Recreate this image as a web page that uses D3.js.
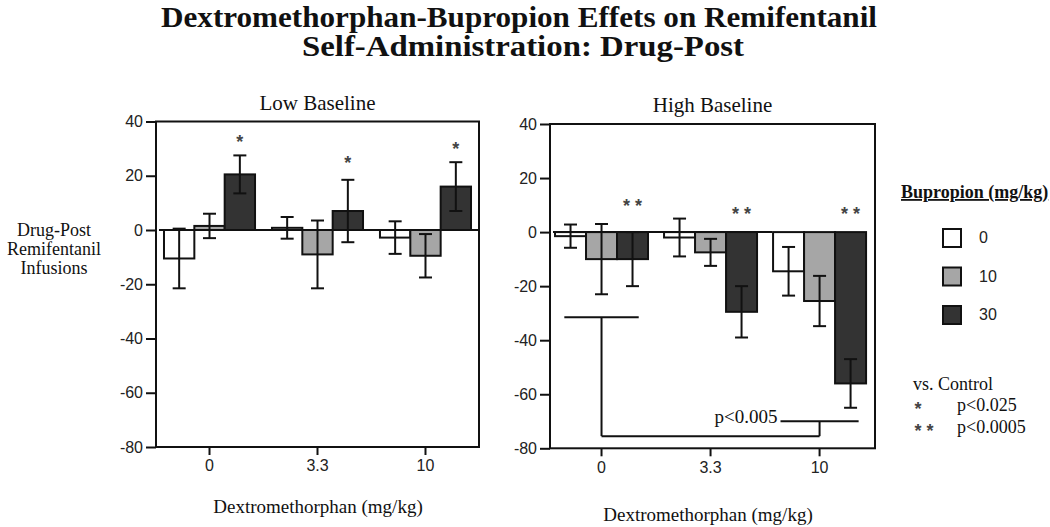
<!DOCTYPE html>
<html>
<head>
<meta charset="utf-8">
<script src="https://cdn.jsdelivr.net/npm/d3@7"></script>
<style>
  html, body { margin: 0; padding: 0; background: #fff; }
  svg { display: block; }
</style>
</head>
<body>
<svg id="chart" width="1050" height="527"></svg>
<script>
// ---------------- DATA ----------------
const groups = ["0", "3.3", "10"];            // Dextromethorphan (mg/kg)
const seriesNames = ["0", "10", "30"];        // Bupropion (mg/kg)
const yTicks = [40, 20, 0, -20, -40, -60, -80];

// Low baseline: means and SEM per group (rows) per bupropion dose (cols)
const lowMeans = [[-10.5, 1.5, 20.5], [0.8, -9, 7], [-2.8, -9.5, 16]];
const lowSE    = [[11, 4.5, 7], [4, 12.5, 11.5], [6, 8, 9]];
// High baseline
const highMeans = [[-1.5, -10, -10], [-2, -7.5, -29.5], [-14.5, -25.5, -56]];
const highSE    = [[4.3, 13, 10], [7, 5, 9.5], [9, 9.3, 9]];

// significance markers (vs. control)
const lowStars  = [{ g: "0", s: "30", label: "*", y: 34 }, { g: "3.3", s: "30", label: "*", y: 26 }, { g: "10", s: "30", label: "*", y: 31.5 }];
const highStars = [{ g: "0", s: "30", label: "* *", y: 11 }, { g: "3.3", s: "30", label: "* *", y: 8 }, { g: "10", s: "30", label: "* *", y: 8 }];
// bracket in high-baseline panel
const bracket = { from: "0", to: "10", yBase: -75.5, yFrom: -31.5, yTo: -70, label: "p<0.005" };

// ---------------- STYLE ----------------
const fills = { "0": "#ffffff", "10": "#a6a6a6", "30": "#333333" };
const SERIF = "'Liberation Serif', 'Times New Roman', serif";
const SANS = "'Liberation Sans', Arial, sans-serif";

const svg = d3.select("#chart");

// Title
const title = svg.append("g").attr("font-family", SERIF).attr("font-weight", "bold")
  .attr("font-size", 29).attr("text-anchor", "middle").attr("fill", "#111");
title.append("text").attr("x", 519).attr("y", 27)
  .attr("textLength", 716).attr("lengthAdjust", "spacingAndGlyphs")
  .text("Dextromethorphan-Bupropion Effets on Remifentanil");
title.append("text").attr("x", 523).attr("y", 56)
  .attr("textLength", 442).attr("lengthAdjust", "spacingAndGlyphs")
  .text("Self-Administration: Drug-Post");

// Y-axis label (shared, left)
const ylab = svg.append("text").attr("font-family", SERIF).attr("font-size", 18)
  .attr("text-anchor", "middle").attr("fill", "#111");
["Drug-Post", "Remifentanil", "Infusions"].forEach((t, i) => {
  ylab.append("tspan").attr("x", 54).attr("y", 236 + i * 19).text(t);
});

function panel(cfg) {
  const { left, right, top, bottom, means, se, stars, name, titleY, xlabY, xlabX, zeroEnd, pi, po, align } = cfg;
  const g = svg.append("g");

  const x = d3.scaleBand().domain(groups).range([left, right])
    .paddingInner(pi).paddingOuter(po).align(align);
  const xs = d3.scaleBand().domain(seriesNames).range([0, x.bandwidth()]);
  const y = d3.scaleLinear().domain([-80, 40]).range([bottom, top]);

  // frame
  g.append("rect").attr("x", left).attr("y", top).attr("width", right - left).attr("height", bottom - top)
    .attr("fill", "none").attr("stroke", "#111").attr("stroke-width", 2);

  // y axis
  const ya = g.append("g").attr("transform", `translate(${left},0)`)
    .call(d3.axisLeft(y).tickValues(yTicks).tickSize(10).tickPadding(3).tickFormat(d => String(d)));
  ya.select(".domain").remove();
  ya.selectAll(".tick line").attr("stroke", "#111").attr("stroke-width", 2);
  ya.selectAll(".tick text").attr("font-family", SANS).attr("font-size", 16).attr("fill", "#222");

  // x axis
  const xa = g.append("g").attr("transform", `translate(0,${bottom})`)
    .call(d3.axisBottom(x).tickSize(8).tickPadding(5));
  xa.select(".domain").remove();
  xa.selectAll(".tick line").attr("stroke", "#111").attr("stroke-width", 2);
  xa.selectAll(".tick text").attr("font-family", SANS).attr("font-size", 16).attr("fill", "#222");

  // zero line
  g.append("line").attr("x1", left + 3).attr("x2", zeroEnd(x))
    .attr("y1", y(0)).attr("y2", y(0)).attr("stroke", "#111").attr("stroke-width", 2);

  // bars
  const rows = [];
  groups.forEach((gr, i) => seriesNames.forEach((s, j) => rows.push({ g: gr, s, v: means[i][j], e: se[i][j] })));

  g.selectAll("rect.bar").data(rows).join("rect").attr("class", "bar")
    .attr("x", d => x(d.g) + xs(d.s))
    .attr("width", xs.bandwidth())
    .attr("y", d => y(Math.max(0, d.v)))
    .attr("height", d => Math.abs(y(d.v) - y(0)))
    .attr("fill", d => fills[d.s]).attr("stroke", "#111").attr("stroke-width", 2);

  // error bars
  const cap = 13;
  const cx = d => x(d.g) + xs(d.s) + xs.bandwidth() / 2;
  const eb = g.selectAll("g.err").data(rows).join("g").attr("class", "err")
    .attr("stroke", "#111").attr("stroke-width", 2);
  eb.append("line").attr("x1", cx).attr("x2", cx)
    .attr("y1", d => y(d.v - d.e)).attr("y2", d => y(d.v + d.e));
  eb.append("line").attr("x1", d => cx(d) - cap / 2).attr("x2", d => cx(d) + cap / 2)
    .attr("y1", d => y(d.v - d.e)).attr("y2", d => y(d.v - d.e));
  eb.append("line").attr("x1", d => cx(d) - cap / 2).attr("x2", d => cx(d) + cap / 2)
    .attr("y1", d => y(d.v + d.e)).attr("y2", d => y(d.v + d.e));

  // stars
  g.selectAll("text.star").data(stars).join("text").attr("class", "star")
    .attr("x", cx)
    .attr("y", d => y(d.y) + 10)
    .attr("text-anchor", "middle").attr("font-family", SANS).attr("font-size", 18)
    .attr("font-weight", "bold").attr("fill", "#444")
    .text(d => d.label);

  // panel title
  g.append("text").attr("x", (left + right) / 2).attr("y", titleY).attr("text-anchor", "middle")
    .attr("font-family", SERIF).attr("font-size", 21).attr("fill", "#111").text(name);

  // x label
  g.append("text").attr("x", xlabX).attr("y", xlabY).attr("text-anchor", "middle")
    .attr("font-family", SERIF).attr("font-size", 19).attr("fill", "#111").text("Dextromethorphan (mg/kg)");

  return { g, x, xs, y };
}

panel({ left: 156, right: 479, top: 121.5, bottom: 447, means: lowMeans, se: lowSE, stars: lowStars,
  name: "Low Baseline", titleY: 110, xlabX: 318, xlabY: 513, pi: 0.157, po: 0.074, align: 0.5,
  zeroEnd: () => 479 });

const hp = panel({ left: 550, right: 875, top: 124, bottom: 448.3, means: highMeans, se: highSE, stars: highStars,
  name: "High Baseline", titleY: 112, xlabX: 708, xlabY: 521, pi: 0.147, po: 0.064, align: 0.36,
  zeroEnd: x => x("10") - 1 });

// bracket
{
  const { g, x, y } = hp;
  const bw = x.bandwidth();
  const xa = x(bracket.from) + bw / 2, xb = x(bracket.to) + bw / 2;
  const bg = g.append("g").attr("stroke", "#111").attr("stroke-width", 2).attr("fill", "none");
  bg.append("line").attr("x1", x(bracket.from) + bw * 0.1).attr("x2", x(bracket.from) + bw * 0.9)
    .attr("y1", y(bracket.yFrom)).attr("y2", y(bracket.yFrom));
  bg.append("line").attr("x1", xa).attr("x2", xa).attr("y1", y(bracket.yFrom)).attr("y2", y(bracket.yBase));
  bg.append("line").attr("x1", xa).attr("x2", xb).attr("y1", y(bracket.yBase)).attr("y2", y(bracket.yBase));
  bg.append("line").attr("x1", xb).attr("x2", xb).attr("y1", y(bracket.yBase)).attr("y2", y(bracket.yTo));
  bg.append("line").attr("x1", x(bracket.to) + bw * 0.08).attr("x2", x(bracket.to) + bw * 0.92)
    .attr("y1", y(bracket.yTo)).attr("y2", y(bracket.yTo));
  g.append("text").attr("x", x(bracket.to) + bw * 0.08 - 3).attr("y", y(bracket.yTo) + 2)
    .attr("text-anchor", "end").attr("font-family", SERIF).attr("font-size", 19).attr("fill", "#111")
    .text(bracket.label);
}

// Legend
{
  const lg = svg.append("g");
  lg.append("text").attr("x", 901).attr("y", 198).attr("font-family", SERIF).attr("font-size", 18)
    .attr("font-weight", "bold").attr("text-decoration", "underline").attr("fill", "#111").text("Bupropion (mg/kg)");
  const ly = d3.scalePoint().domain(seriesNames).range([238, 315]);
  lg.selectAll("rect.lg").data(seriesNames).join("rect").attr("class", "lg")
    .attr("x", 943).attr("y", d => ly(d) - 9).attr("width", 18).attr("height", 18)
    .attr("fill", d => fills[d]).attr("stroke", "#111").attr("stroke-width", 2);
  lg.selectAll("text.lgt").data(seriesNames).join("text").attr("class", "lgt")
    .attr("x", 979).attr("y", d => ly(d) + 5).attr("font-family", SANS).attr("font-size", 16)
    .attr("fill", "#222").text(d => d);

  const notes = svg.append("g").attr("font-family", SERIF).attr("font-size", 18).attr("fill", "#111");
  notes.append("text").attr("x", 913).attr("y", 390).text("vs. Control");
  notes.append("text").attr("x", 918).attr("y", 415).attr("text-anchor", "middle").attr("font-family", SANS)
    .attr("font-size", 18).attr("font-weight", "bold").attr("fill", "#444").text("*");
  notes.append("text").attr("x", 957).attr("y", 411).text("p<0.025");
  notes.append("text").attr("x", 924).attr("y", 437).attr("text-anchor", "middle").attr("font-family", SANS)
    .attr("font-size", 18).attr("font-weight", "bold").attr("fill", "#444").text("* *");
  notes.append("text").attr("x", 957).attr("y", 433).text("p<0.0005");
}
</script>
</body>
</html>
